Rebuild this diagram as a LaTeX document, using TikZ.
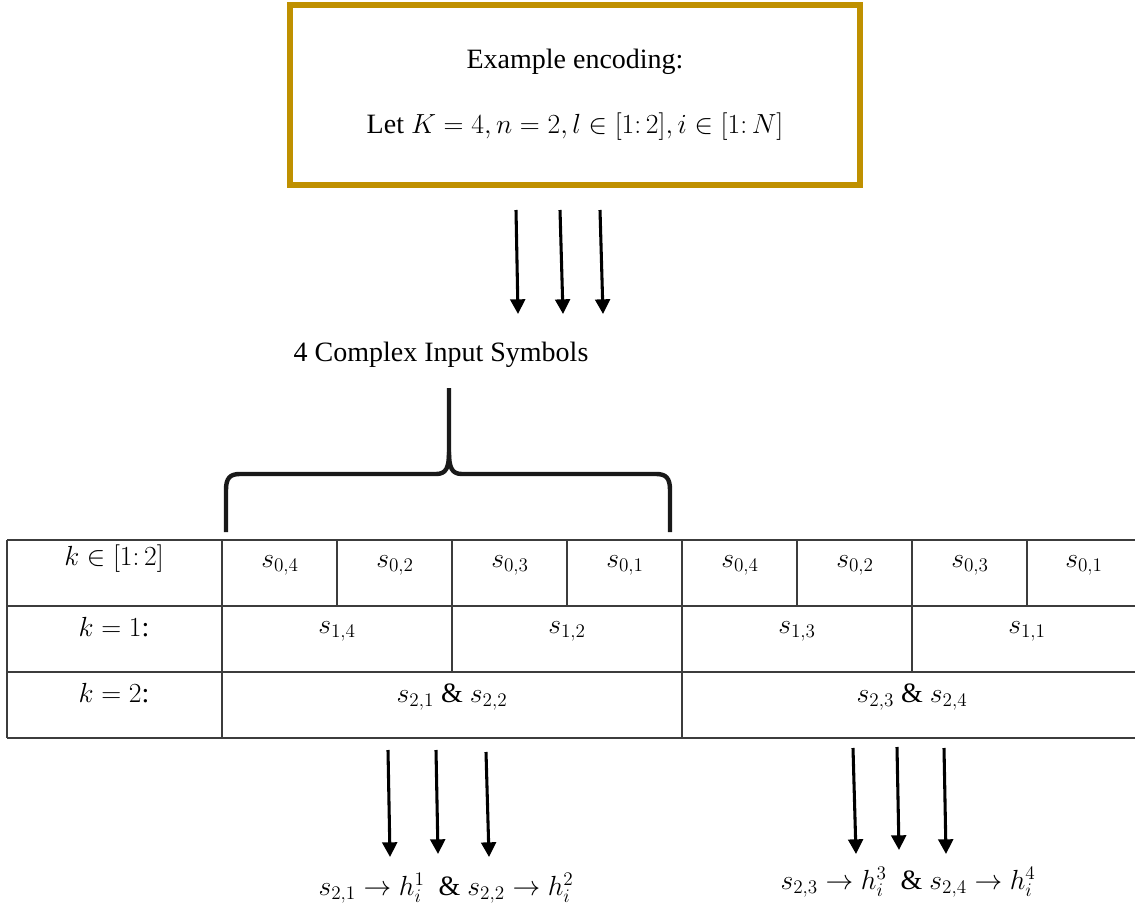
\documentclass[tikz,border=0pt]{standalone}
\usepackage{fontspec}
\setmainfont{Liberation Serif}
\usetikzlibrary{arrows.meta}
\definecolor{gold}{RGB}{191,144,0}
\definecolor{grid}{RGB}{60,60,60}
\begin{document}
\begin{tikzpicture}[x=0.75pt,y=-0.75pt,
  big/.style={font=\fontsize{21}{25}\selectfont, inner sep=0pt},
  cell/.style={font=\fontsize{21}{25}\selectfont, inner sep=0pt},
  arr/.style={line width=2.3pt, -{Triangle[width=11pt,length=11pt]}},
  gridline/.style={draw=grid, line width=1.1pt},
  bracepath/.style={line width=3.3pt, line join=round, draw=black!90}]
\useasboundingbox (0,0) rectangle (1135,913);
% top box
\node[draw=gold, line width=3.8pt, inner sep=0pt,
  minimum width=427.5pt, minimum height=135pt] (box) at (575,95) {};
\node[big] (t1) at (575,62) {Example encoding:};
\node[big] (t2) at (575,127) {Let $K=4, n=2, l\in[1{:}\,2], i\in[1{:}\,N]$};
% top arrows
\coordinate (a1s) at (516,210); \coordinate (a1e) at (518,314);
\coordinate (a2s) at (560,210); \coordinate (a2e) at (563,314);
\coordinate (a3s) at (600,210); \coordinate (a3e) at (603,314);
\draw[arr] (a1s) -- (a1e);
\draw[arr] (a2s) -- (a2e);
\draw[arr] (a3s) -- (a3e);
\node[big] (sym) at (441,355) {4 Complex Input Symbols};
% brace
\coordinate (bl) at (226,532); \coordinate (br) at (670,532); \coordinate (bt) at (449,388);
\draw[bracepath] (bl) -- (226,490) .. controls (226,478) and (230,474) .. (240,474)
  -- (436,474) .. controls (446,474) and (449,468) .. (449,452) -- (bt);
\draw[bracepath] (br) -- (670,490) .. controls (670,478) and (666,474) .. (656,474)
  -- (462,474) .. controls (452,474) and (449,468) .. (449,452);
% table grid
\draw[gridline] (7,540) -- (1135,540);
\draw[gridline] (7,606) -- (1135,606);
\draw[gridline] (7,672) -- (1135,672);
\draw[gridline] (7,738) -- (1135,738);
\draw[gridline] (7,540) -- (7,738);
\draw[gridline] (222,540) -- (222,738);
\draw[gridline] (682,540) -- (682,738);
\draw[gridline] (452,540) -- (452,672);
\draw[gridline] (912,540) -- (912,672);
\foreach \x in {337,567,797,1027} \draw[gridline] (\x,540) -- (\x,606);
% table text
\node[cell] (k0) at (114,559) {$k\in[1{:}\,2]$};
\node[cell] (k1) at (114,627) {$k=1$:};
\node[cell] (k2) at (114,693) {$k=2$:};
\node[cell] (c01) at (280,565) {$s_{0,4}$};
\node[cell] (c02) at (395,565) {$s_{0,2}$};
\node[cell] (c03) at (510,565) {$s_{0,3}$};
\node[cell] (c04) at (625,565) {$s_{0,1}$};
\node[cell] (c05) at (740,565) {$s_{0,4}$};
\node[cell] (c06) at (855,565) {$s_{0,2}$};
\node[cell] (c07) at (970,565) {$s_{0,3}$};
\node[cell] (c08) at (1084,565) {$s_{0,1}$};
\node[cell] (c11) at (337,631) {$s_{1,4}$};
\node[cell] (c12) at (567,631) {$s_{1,2}$};
\node[cell] (c13) at (797,631) {$s_{1,3}$};
\node[cell] (c14) at (1027,631) {$s_{1,1}$};
\node[cell] (c21) at (452,697) {$s_{2,1}$ \& $s_{2,2}$};
\node[cell] (c22) at (912,697) {$s_{2,3}$ \& $s_{2,4}$};
% bottom arrows
\coordinate (b1s) at (388,750); \coordinate (b1e) at (390,857);
\coordinate (b2s) at (436,750); \coordinate (b2e) at (438,854);
\coordinate (b3s) at (486,752); \coordinate (b3e) at (489,857);
\coordinate (b4s) at (853,748); \coordinate (b4e) at (856,854);
\coordinate (b5s) at (897,747); \coordinate (b5e) at (899,850);
\coordinate (b6s) at (944,748); \coordinate (b6e) at (946,854);
\foreach \i in {1,...,6} \draw[arr] (b\i s) -- (b\i e);
\node[cell] (o1) at (446,888) {$s_{2,1}\rightarrow h_i^1$\ \ \& $s_{2,2}\rightarrow h_i^2$};
\node[cell] (o2) at (908,882) {$s_{2,3}\rightarrow h_i^3$\ \ \& $s_{2,4}\rightarrow h_i^4$};
\end{tikzpicture}
\end{document}
